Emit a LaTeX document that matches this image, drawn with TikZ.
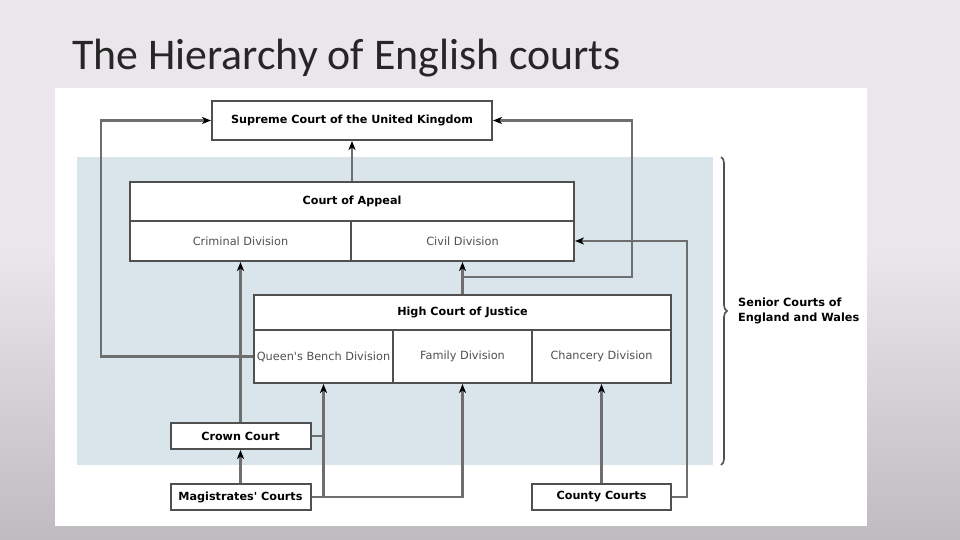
\documentclass[tikz,border=0pt]{standalone}
\usepackage{fontspec}
\setmainfont{DejaVu Sans}
\newfontfamily\titlefont{Carlito}
\usetikzlibrary{arrows.meta,decorations.pathreplacing}
\definecolor{slidebg}{HTML}{EAE6EC}
\definecolor{slidebot}{HTML}{BFBBC1}
\definecolor{blueshade}{HTML}{DAE5EB}
\definecolor{linegray}{HTML}{6E6E6E}
\definecolor{boxgray}{HTML}{505050}
\definecolor{txtgray}{HTML}{505050}
\begin{document}
\begin{tikzpicture}[x=1pt,y=-1pt,
  cell/.style={draw=boxgray,line width=2pt,fill=white,inner sep=0pt,font=\fontsize{11.3}{13}\selectfont,text=txtgray},
  head/.style={cell,font=\fontsize{11.2}{13}\selectfont\bfseries,text=black},
  conn/.style={draw=linegray,line width=2.2pt,-{Stealth[length=9pt,width=7pt,inset=2.5pt,black]}},
  plain/.style={draw=linegray,line width=2.2pt}]
\useasboundingbox (0,0) rectangle (960,540);
\fill[slidebg] (0,0) rectangle (960,251);
\shade[top color=slidebg,bottom color=slidebot] (0,250) rectangle (960,540);
\fill[white] (55,88) rectangle (867,526);
\fill[blueshade] (77,157) rectangle (713,465);
\node[anchor=base west,font=\titlefont\fontsize{43.8}{48}\selectfont,text=black!85,inner sep=0pt] (title) at (72,70) {The Hierarchy of English courts};
% boxes
\node[head,minimum width=280pt,minimum height=39pt] (supreme) at (352,120.5) {Supreme Court of the United Kingdom};
\node[head,minimum width=444pt,minimum height=39pt] (appeal) at (352,201.5) {Court of Appeal};
\node[cell,minimum width=221pt,minimum height=40pt] (criminal) at (240.5,241) {Criminal Division};
\node[cell,minimum width=223pt,minimum height=40pt] (civil) at (462.5,241) {Civil Division};
\node[head,minimum width=417pt,minimum height=35pt] (hc) at (462.5,312.5) {High Court of Justice};
\node[cell,minimum width=139pt,minimum height=53pt] (qb) at (323.5,356.5) {Queen\textquotesingle s Bench Division};
\node[cell,minimum width=139pt,minimum height=53pt] (family) at (462.5,356.5) {Family Division};
\node[cell,minimum width=139pt,minimum height=53pt] (chancery) at (601.5,356.5) {Chancery Division};
\node[head,minimum width=140pt,minimum height=26pt] (crown) at (240.5,436) {Crown Court};
\node[head,minimum width=140pt,minimum height=26pt] (mag) at (240.5,497) {Magistrates\textquotesingle{} Courts};
\node[head,minimum width=139pt,minimum height=26pt] (county) at (601.5,497) {County Courts};
% helper coordinates
\coordinate (L) at (101,120.5);
\coordinate (R1) at (462.5,277);
\coordinate (R2) at (632,120.5);
\coordinate (CR) at (687,241);
% connectors
\draw[conn] (appeal.north) -- (supreme.south);
\draw[conn] (qb.west) -| (L) -- (supreme.west);
\draw[conn] (hc.north) -- (civil.south);
\draw[conn] (R1) -| (R2) -- (supreme.east);
\draw[conn] (crown.north) -- (criminal.south);
\draw[conn] (mag.north) -- (crown.south);
\draw[plain] (crown.east) -- (crown.east -| qb.south);
\draw[conn] (mag.east) -| (family.south);
\draw[conn] (mag.east -| qb.south) -- (qb.south);
\draw[conn] (county.north) -- (chancery.south);
\draw[conn] (county.east) -| (CR) -- (civil.east);
% brace
\coordinate (B1) at (721,157);
\coordinate (B2) at (721,465);
\draw[boxgray,line width=1.6pt,decorate,decoration={brace,amplitude=6pt}] (B1) -- (B2);
\node[anchor=west,align=left,font=\fontsize{11.3}{15}\selectfont\bfseries,inner sep=0pt] (senior) at (738,311) {Senior Courts of\\England and Wales};
\end{tikzpicture}
\end{document}
